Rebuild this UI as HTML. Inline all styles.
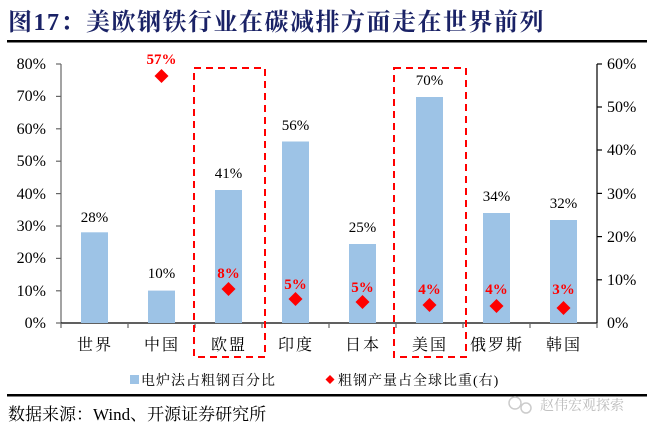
<!DOCTYPE html>
<html><head><meta charset="utf-8"><style>
body{margin:0;background:#fff;width:653px;height:431px;overflow:hidden}
text{font-family:"Liberation Serif","Noto Serif CJK SC",serif}
</style></head><body>
<svg width="653" height="431" xmlns="http://www.w3.org/2000/svg">
<text x="8" y="30" font-size="24" font-weight="bold" fill="#1a2266" letter-spacing="1.5" font-family="Liberation Serif,Noto Serif CJK SC,serif">图17：美欧钢铁行业在碳减排方面走在世界前列</text>
<rect x="7" y="40" width="640" height="2.5" fill="#000"/>
<g font-size="16" fill="#000">
<g text-anchor="end">
<text x="46" y="328">0%</text><text x="46" y="296">10%</text><text x="46" y="263">20%</text><text x="46" y="231">30%</text><text x="46" y="199">40%</text><text x="46" y="166">50%</text><text x="46" y="134">60%</text><text x="46" y="101">70%</text><text x="46" y="69">80%</text>
</g>
<g text-anchor="start">
<text x="607" y="328">0%</text><text x="607" y="285">10%</text><text x="607" y="242">20%</text><text x="607" y="199">30%</text><text x="607" y="155">40%</text><text x="607" y="112">50%</text><text x="607" y="69">60%</text>
</g>
</g>
<g stroke="#666" stroke-width="1.2">
<line x1="61" y1="64" x2="61" y2="323"/><line x1="597" y1="64" x2="597" y2="323" stroke="#000"/>
<line x1="61" y1="323" x2="597" y2="323" stroke="#000"/>
<line x1="56" y1="64" x2="61" y2="64"/><line x1="56" y1="96.4" x2="61" y2="96.4"/><line x1="56" y1="128.8" x2="61" y2="128.8"/><line x1="56" y1="161.2" x2="61" y2="161.2"/><line x1="56" y1="193.6" x2="61" y2="193.6"/><line x1="56" y1="226" x2="61" y2="226"/><line x1="56" y1="258.4" x2="61" y2="258.4"/><line x1="56" y1="290.8" x2="61" y2="290.8"/><line x1="56" y1="323" x2="61" y2="323"/>
<g stroke="#000"><line x1="597" y1="64" x2="602" y2="64"/><line x1="597" y1="107" x2="602" y2="107"/><line x1="597" y1="150" x2="602" y2="150"/><line x1="597" y1="193.4" x2="602" y2="193.4"/><line x1="597" y1="236.6" x2="602" y2="236.6"/><line x1="597" y1="279.8" x2="602" y2="279.8"/></g>
<line x1="128" y1="323" x2="128" y2="328"/><line x1="195" y1="323" x2="195" y2="328"/><line x1="262" y1="323" x2="262" y2="328"/><line x1="329" y1="323" x2="329" y2="328"/><line x1="396" y1="323" x2="396" y2="328"/><line x1="463" y1="323" x2="463" y2="328"/><line x1="530" y1="323" x2="530" y2="328"/><line x1="61" y1="323" x2="61" y2="328"/><line x1="597" y1="323" x2="597" y2="328"/>
</g>
<g fill="#9dc3e6">
<rect x="81" y="232.3" width="27" height="90.7"/>
<rect x="148" y="290.6" width="27" height="32.4"/>
<rect x="215" y="190" width="27" height="133"/>
<rect x="282" y="141.5" width="27" height="181.5"/>
<rect x="349" y="244" width="27" height="79"/>
<rect x="416" y="97" width="27" height="226"/>
<rect x="483" y="213" width="27" height="110"/>
<rect x="550" y="220" width="27" height="103"/>
</g>
<g font-size="15" text-anchor="middle">
<text x="94.5" y="222">28%</text><text x="161.5" y="278">10%</text><text x="228.5" y="178">41%</text><text x="295.5" y="130">56%</text><text x="362.5" y="232">25%</text><text x="429.5" y="85">70%</text><text x="496.5" y="201">34%</text><text x="563.5" y="208">32%</text>
</g>
<g fill="#f00">
<path d="M161.5 69l7 7-7 7-7-7z"/><path d="M228.5 282l7 7-7 7-7-7z"/><path d="M295.5 292l7 7-7 7-7-7z"/><path d="M362.5 295l7 7-7 7-7-7z"/><path d="M429.5 298l7 7-7 7-7-7z"/><path d="M496.5 299l7 7-7 7-7-7z"/><path d="M563.5 301l7 7-7 7-7-7z"/>
</g>
<g font-size="15" font-weight="bold" fill="#f00" text-anchor="middle">
<text x="161.5" y="64">57%</text><text x="228.5" y="278">8%</text><text x="295.5" y="289">5%</text><text x="362.5" y="292">5%</text><text x="429.5" y="294">4%</text><text x="496.5" y="294">4%</text><text x="563.5" y="294">3%</text>
</g>
<g fill="none" stroke="#f00" stroke-width="2" stroke-dasharray="7,5">
<rect x="194" y="68" width="71" height="289"/>
<rect x="394" y="68" width="72" height="289"/>
</g>
<g font-size="16" text-anchor="middle" letter-spacing="2">
<text x="95" y="350">世界</text><text x="162" y="350">中国</text><text x="229" y="350">欧盟</text><text x="296" y="350">印度</text><text x="363" y="350">日本</text><text x="430" y="350">美国</text><text x="497" y="350">俄罗斯</text><text x="564" y="350">韩国</text>
</g>
<rect x="130" y="375" width="9" height="9" fill="#9dc3e6"/>
<text x="141" y="385" font-size="14" letter-spacing="1">电炉法占粗钢百分比</text>
<path d="M330 375l4.5 4.5-4.5 4.5-4.5-4.5z" fill="#f00"/>
<text x="338" y="385" font-size="14" letter-spacing="1">粗钢产量占全球比重(右)</text>
<rect x="7" y="394" width="640" height="2.5" fill="#000"/>
<text x="8" y="420" font-size="17">数据来源：Wind、开源证券研究所</text>
<text x="540" y="410" font-size="14" fill="#bbb" font-family="Liberation Sans,Noto Sans CJK SC,sans-serif">赵伟宏观探索</text>
<circle cx="515" cy="403" r="6" fill="none" stroke="#ccc" stroke-width="1.5"/>
<circle cx="526" cy="408" r="5" fill="none" stroke="#ccc" stroke-width="1.5"/>
</svg>
</body></html>
